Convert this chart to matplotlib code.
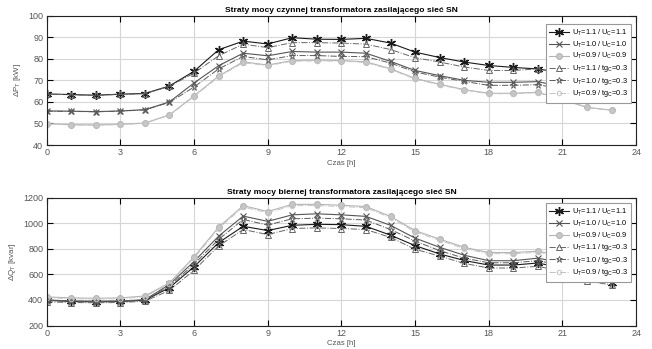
import matplotlib
matplotlib.use("Agg")
import matplotlib.pyplot as plt
from matplotlib.ticker import MultipleLocator

plt.rcParams['font.family'] = ['Liberation Sans', 'DejaVu Sans']
plt.rcParams['mathtext.default'] = 'regular'

hours = list(range(24))

# Active power losses [kW]
p_s1 = [63.7, 63.4, 63.1, 63.6, 63.9, 67.4, 74.2, 84.2, 88.2, 86.9, 89.8, 89.1,
        89.0, 89.5, 87.3, 83.1, 80.6, 78.5, 76.9, 76.0, 75.3, 73.5, 70.5, 68.0]
p_s2 = [55.8, 55.7, 55.5, 55.8, 56.4, 60.0, 68.8, 76.8, 82.6, 81.4, 83.4, 83.1,
        83.1, 82.6, 78.8, 74.6, 72.2, 70.0, 69.1, 69.1, 69.4, 67.0, 64.0, 61.7]
p_s3 = [49.9, 49.4, 49.3, 49.6, 50.2, 54.0, 62.8, 72.0, 78.6, 77.1, 79.2, 79.4,
        79.2, 78.6, 75.4, 70.9, 68.2, 65.7, 64.0, 64.0, 64.5, 61.1, 57.5, 56.2]
p_s4 = [63.6, 63.3, 63.0, 63.5, 63.8, 67.2, 73.4, 81.4, 86.8, 85.2, 87.5, 87.5,
        87.3, 86.8, 84.3, 80.5, 78.5, 76.2, 74.6, 74.6, 75.3, 73.0, 70.0, 67.5]
p_s5 = [55.7, 55.6, 55.4, 55.7, 56.3, 59.8, 66.9, 75.3, 81.1, 79.5, 81.5, 81.5,
        81.1, 81.0, 78.0, 73.9, 71.5, 69.5, 67.7, 67.7, 68.0, 66.0, 63.0, 61.3]
p_s6 = [49.8, 49.3, 49.2, 49.5, 50.1, 53.8, 62.5, 71.6, 78.2, 76.8, 78.9, 79.0,
        78.9, 78.3, 75.1, 70.6, 67.9, 65.5, 63.8, 63.8, 64.3, 61.0, 57.4, 56.0]

# Reactive power losses [kvar]
q_s1 = [398, 388, 385, 388, 398, 496, 660, 848, 976, 943, 984, 992,
        989, 976, 907, 825, 760, 709, 673, 673, 689, 650, 570, 535]
q_s2 = [400, 392, 390, 392, 402, 521, 701, 899, 1056, 1015, 1066, 1074,
        1066, 1054, 984, 884, 812, 750, 707, 707, 727, 690, 610, 575]
q_s3 = [424, 416, 413, 416, 431, 534, 737, 969, 1138, 1092, 1148, 1148,
        1141, 1131, 1054, 943, 876, 812, 771, 771, 781, 745, 660, 620]
q_s4 = [385, 380, 378, 380, 390, 475, 632, 822, 951, 912, 959, 964,
        959, 951, 889, 797, 743, 686, 650, 650, 663, 625, 547, 518]
q_s5 = [396, 390, 387, 390, 400, 508, 680, 873, 1030, 986, 1035, 1040,
        1035, 1025, 951, 861, 786, 727, 691, 691, 707, 670, 595, 570]
q_s6 = [418, 410, 408, 410, 425, 528, 728, 958, 1128, 1082, 1138, 1138,
        1131, 1121, 1044, 933, 866, 802, 762, 762, 772, 735, 650, 612]

labels = ['U$_T$=1.1 / U$_C$=1.1', 'U$_T$=1.0 / U$_C$=1.0', 'U$_T$=0.9 / U$_C$=0.9',
          'U$_T$=1.1 / tg$_C$=0.3', 'U$_T$=1.0 / tg$_C$=0.3', 'U$_T$=0.9 / tg$_C$=0.3']

styles = [
    dict(color='#1a1a1a', ls='-', marker=(6, 2, 0), ms=6.5, mew=1.0, mfc='none', lw=0.8),
    dict(color='#555555', ls='-', marker='x', ms=4.0, mew=0.8, mfc='none', lw=0.8),
    dict(color='#b4b4b4', ls='-', marker='o', ms=4.2, mew=0.8, mfc='#c8c8c8', lw=0.8),
    dict(color='#666666', ls='-.', marker='^', ms=4.5, mew=0.7, mfc='none', lw=0.7),
    dict(color='#5a5a5a', ls='-.', marker='*', ms=5.0, mew=0.6, mfc='none', lw=0.7),
    dict(color='#c4c4c4', ls='-.', marker='o', ms=3.3, mew=0.7, mfc='none', lw=0.7),
]

fig = plt.figure(figsize=(6.52, 3.49), dpi=100)
ax1 = fig.add_axes([0.0716, 0.5845, 0.9040, 0.3705])
ax2 = fig.add_axes([0.0716, 0.0673, 0.9040, 0.3662])

def setup(ax, data, title, ylabel, ylim, ystep, leg_top):
    for d, lab, st in zip(data, labels, styles):
        ax.plot(hours, d, label=lab, **st)
    ax.set_xlim(0, 24)
    ax.set_ylim(*ylim)
    ax.xaxis.set_major_locator(MultipleLocator(3))
    ax.yaxis.set_major_locator(MultipleLocator(ystep))
    ax.grid(True, color='#d6d6d6', lw=0.8)
    ax.set_axisbelow(True)
    ax.tick_params(direction='in', top=True, right=True, length=4, width=0.8,
                   labelsize=6.5, labelcolor='#555555', pad=2.5)
    for s in ax.spines.values():
        s.set_linewidth(0.8)
        s.set_color('#222222')
    ax.set_title(title, fontsize=6.1, fontweight='bold', pad=2.5)
    ax.set_xlabel('Czas [h]', fontsize=5.6, color='#555555', labelpad=1.5)
    ax.set_ylabel(ylabel, fontsize=5.8, color='#555555', labelpad=4)
    leg = ax.legend(loc='upper right', bbox_to_anchor=(0.9915, leg_top), fontsize=5.3,
                    handlelength=2.7, handletextpad=0.3, labelspacing=0.22,
                    borderpad=0.5, borderaxespad=0, framealpha=1, fancybox=False,
                    edgecolor='#999999')
    leg.get_frame().set_linewidth(0.8)

setup(ax1, [p_s1, p_s2, p_s3, p_s4, p_s5, p_s6],
      'Straty mocy czynnej transformatora zasilającego sieć SN',
      'ΔP$_T$ [kW]', (40, 100), 10, 0.936)
setup(ax2, [q_s1, q_s2, q_s3, q_s4, q_s5, q_s6],
      'Straty mocy biernej transformatora zasilającego sieć SN',
      'ΔQ$_T$ [kvar]', (200, 1200), 200, 0.958)

fig.savefig('out.png', dpi=100)
